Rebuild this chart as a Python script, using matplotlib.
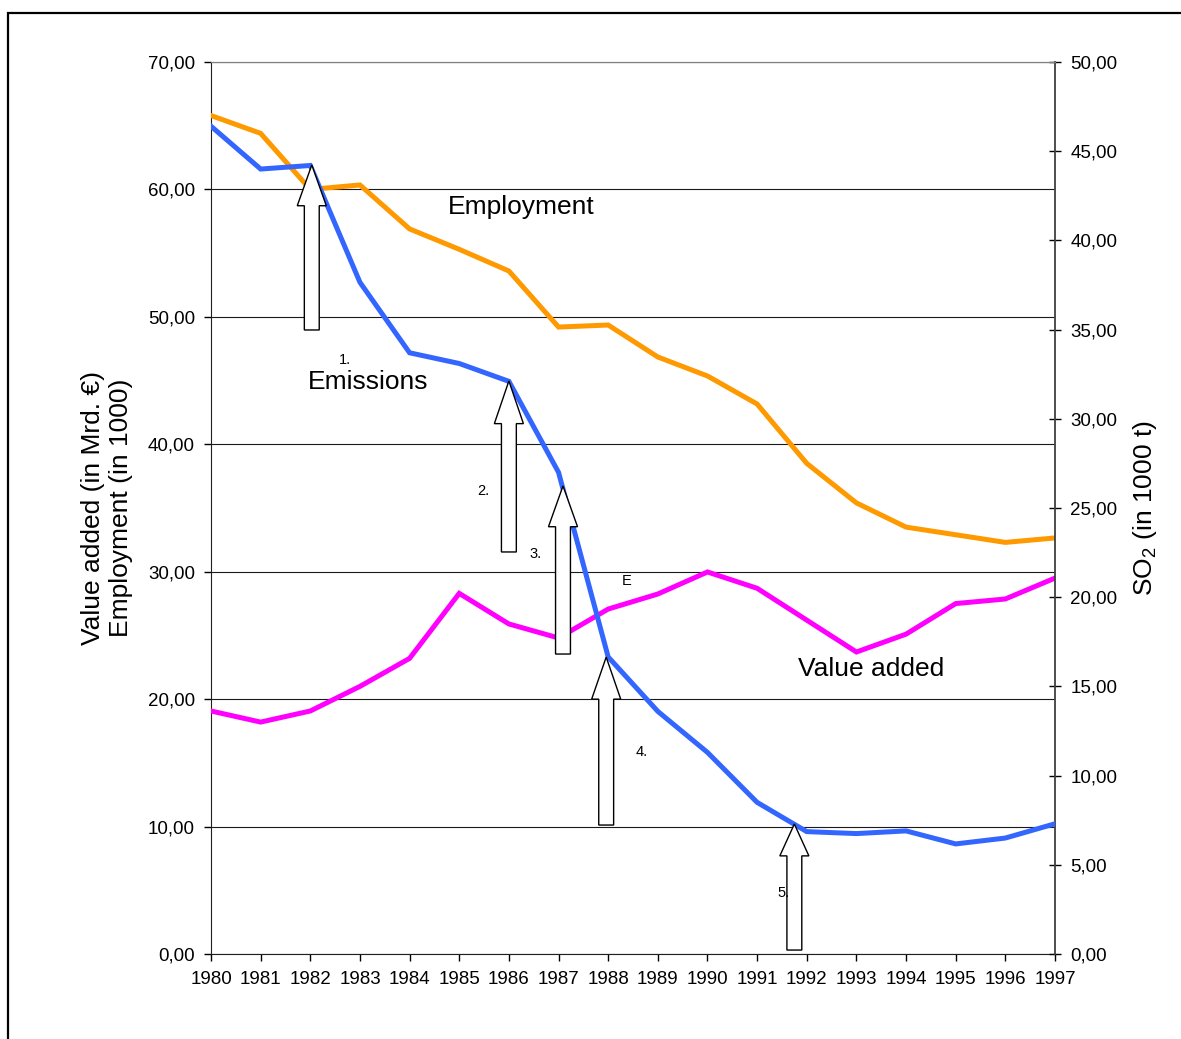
"""
Value added, employment and SO2 emissions 1980-1997
two y axes, hollow arrows marking the steps
"""

import matplotlib
matplotlib.use('Agg')
import matplotlib.pyplot as plt
from matplotlib.patches import Polygon, Rectangle
from matplotlib.ticker import FuncFormatter

plt.rcParams['font.family'] = ['Liberation Sans', 'DejaVu Sans']
plt.rcParams['mathtext.default'] = 'regular'

# DATOS
years = list(range(1980, 1998))
employment = [65.8, 64.4, 60.0, 60.35, 56.9, 55.3, 53.6, 49.2, 49.36, 46.85,
              45.36, 43.16, 38.5, 35.4, 33.5, 32.9, 32.3, 32.65]
value_added = [19.07, 18.2, 19.07, 21.0, 23.2, 28.3, 25.9, 24.8, 27.07, 28.25,
               29.98, 28.7, 26.2, 23.7, 25.1, 27.5, 27.86, 29.5]
emissions = [46.4, 44.0, 44.2, 37.65, 33.7, 33.1, 32.1, 27.0, 16.65, 13.6,
             11.3, 8.5, 6.86, 6.75, 6.9, 6.17, 6.5, 7.3]

# flechas: (año, base, punta, largo cabeza) en unidades del eje izquierdo
arrows = [
    (1982.03, 48.97, 61.92, 3.2),
    (1986.00, 31.55, 44.97, 3.35),
    (1987.09, 23.54, 36.73, 3.2),
    (1987.96, 10.12, 23.30, 3.3),
    (1991.75, 0.31, 10.20, 2.5),
]
notes = [
    ('1.', 1982.70, 46.27),
    ('2.', 1985.48, 36.02),
    ('3.', 1986.53, 31.08),
    ('E', 1988.38, 28.96),
    ('4.', 1988.68, 15.54),
    ('5.', 1991.54, 4.47),
]
series_labels = [
    ('Employment', 1986.24, 58.07),
    ('Emissions', 1983.16, 44.34),
    ('Value added', 1993.29, 21.78),
]

W, H = 1181, 1039
fig = plt.figure(figsize=(W / 100, H / 100), dpi=100, facecolor='white')
ax = fig.add_axes([211 / W, 1 - 954 / H, (1055 - 211) / W, (954 - 62) / H])
ax2 = ax.twinx()

# marco exterior (cortado a la derecha y abajo)
fig.add_artist(Rectangle((8 / W, -0.1), 1.2, 1.1 - 13 / H,
                         transform=fig.transFigure, fill=False,
                         edgecolor='black', linewidth=1.6))

comma = FuncFormatter(lambda v, p: f"{v:.2f}".replace('.', ','))

# EJE IZQUIERDO
ax.plot(years, employment, color='#FF9900', linewidth=3.6, zorder=3,
        solid_joinstyle='miter')
ax.plot(years, value_added, color='#FF00FF', linewidth=3.6, zorder=3,
        solid_joinstyle='miter')
ax.set_xlim(1980, 1997)
ax.set_ylim(0, 70)
ax.set_xticks(years)
ax.set_yticks(range(0, 71, 10))
ax.yaxis.set_major_formatter(comma)
ax.yaxis.grid(True, color='#1a1a1a', linewidth=0.8)
ax.set_axisbelow(True)
ax.tick_params(axis='y', direction='out', length=5, width=1, pad=6.5,
               labelsize=13.5)
ax.tick_params(axis='x', direction='out', length=5, width=1, pad=7,
               labelsize=13.5)
ax.spines['right'].set_visible(False)
ax.spines['top'].set_color('#808080')
ax.spines['left'].set_color('#202020')
ax.spines['bottom'].set_color('#202020')

ax.set_ylabel('Value added (in Mrd. €)\nEmployment (in 1000)', fontsize=19,
              linespacing=1.25)
ax.yaxis.set_label_coords(-0.092, 0.5)

# EJE DERECHO
ax2.plot(years, emissions, color='#3366FF', linewidth=3.6, zorder=3,
         solid_joinstyle='miter')
ax2.set_ylim(0, 50)
ax2.set_yticks(range(0, 51, 5))
ax2.yaxis.set_major_formatter(comma)
ax2.tick_params(axis='y', direction='inout', length=9, width=1, pad=6.5,
                labelsize=13.5, colors='black')
ax2.spines['left'].set_visible(False)
ax2.spines['bottom'].set_visible(False)
ax2.spines['top'].set_color('#808080')
ax2.spines['right'].set_color('#404040')
ax2.spines['right'].set_linewidth(1.3)
ax2.set_ylabel('SO$_2$ (in 1000 t)', fontsize=19)
ax2.yaxis.set_label_coords(1.090, 0.5)

# FLECHAS huecas encima de todo
shaft_w = 0.30
head_w = 0.585
for x, bottom, tip, head_len in arrows:
    base = tip - head_len
    pts = [
        (x - shaft_w / 2, bottom), (x + shaft_w / 2, bottom),
        (x + shaft_w / 2, base), (x + head_w / 2, base),
        (x, tip), (x - head_w / 2, base),
        (x - shaft_w / 2, base),
    ]
    ax2.add_patch(Polygon(pts, closed=True, facecolor='white',
                          edgecolor='black', linewidth=1.0,
                          transform=ax.transData, zorder=5, clip_on=False))

for txt, x, y in notes:
    ax2.text(x, y, txt, transform=ax.transData, ha='center', va='baseline',
             fontsize=10.5, zorder=6)

for txt, x, y in series_labels:
    ax2.text(x, y, txt, transform=ax.transData, ha='center', va='baseline',
             fontsize=19, zorder=6)

plt.savefig('out.png', dpi=100, facecolor='white')
plt.close()
